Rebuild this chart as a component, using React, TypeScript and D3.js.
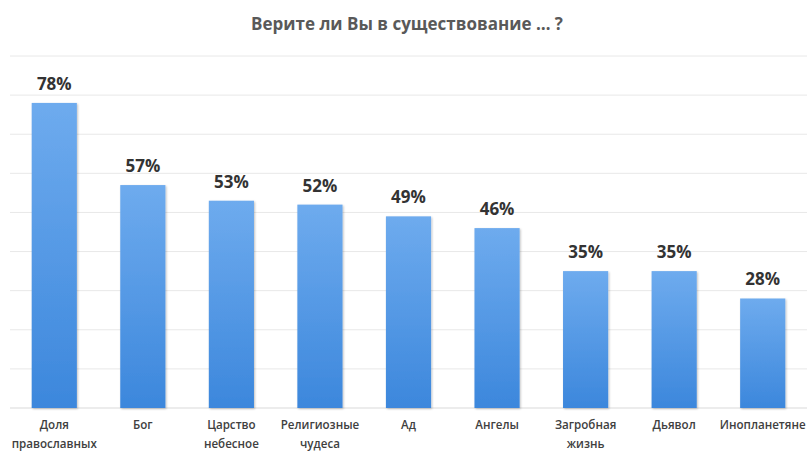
import React from "react";
import * as d3 from "d3";

const title = "Верите ли Вы в существование … ?";
const categories = [
  ["Доля", "православных"],
  ["Бог"],
  ["Царство", "небесное"],
  ["Религиозные", "чудеса"],
  ["Ад"],
  ["Ангелы"],
  ["Загробная", "жизнь"],
  ["Дьявол"],
  ["Инопланетяне"],
];
const values = [78, 57, 53, 52, 49, 46, 35, 35, 28];
const gridTicks = [0, 10, 20, 30, 40, 50, 60, 70, 80, 90];

const W = 807;
const H = 453;
const FONT = "'Open Sans', 'Noto Sans', sans-serif";

export default function App() {
  const keys = categories.map((c) => c.join(" "));
  const x = d3.scaleBand<string>().domain(keys).range([10, 807]).paddingInner(0.49).paddingOuter(0.245);
  const y = d3.scaleLinear().domain([0, 90]).range([408, 56]);
  return (
    <div style={{ position: "fixed", left: 0, top: 0, width: W, height: H, background: "#fff" }}>
      <svg width={W} height={H} style={{ display: "block" }}>
        <defs>
          <linearGradient id="barGrad" x1="0" y1="0" x2="0" y2="1">
            <stop offset="0%" stopColor="#6eabee" />
            <stop offset="100%" stopColor="#3c87dc" />
          </linearGradient>
          <filter id="shadow" x="-20%" y="-10%" width="140%" height="120%">
            <feGaussianBlur in="SourceAlpha" stdDeviation="1" />
            <feOffset dx="0.5" dy="0.5" result="b" />
            <feComponentTransfer>
              <feFuncA type="linear" slope="0.25" />
            </feComponentTransfer>
            <feMerge>
              <feMergeNode />
              <feMergeNode in="SourceGraphic" />
            </feMerge>
          </filter>
        </defs>
        <text x={407} y={30} textAnchor="middle" fontFamily={FONT} fontWeight={700} fontSize={17} fill="#595959">
          {title}
        </text>
        {gridTicks.map((t) => (
          <line key={t} x1={10} x2={807} y1={y(t)} y2={y(t)} stroke={t === 0 ? "#d9d9d9" : "#e8e8e8"} strokeWidth={1} />
        ))}
        {values.map((v, i) => {
          const k = keys[i];
          const bx = x(k)!;
          return (
            <g key={k}>
              <rect x={bx} y={y(v)} width={x.bandwidth()} height={y(0) - y(v)} fill="url(#barGrad)" filter="url(#shadow)" />
              <text x={bx + x.bandwidth() / 2} y={y(v) - 13} textAnchor="middle" fontFamily={FONT} fontWeight={700} fontSize={17} fill="#333">
                {v}%
              </text>
              {categories[i].map((line, j) => (
                <text key={j} x={bx + x.bandwidth() / 2} y={429 + j * 19} textAnchor="middle" fontFamily={FONT} fontWeight={600} fontSize={11.6} fill="#404040">
                  {line}
                </text>
              ))}
            </g>
          );
        })}
      </svg>
    </div>
  );
}
